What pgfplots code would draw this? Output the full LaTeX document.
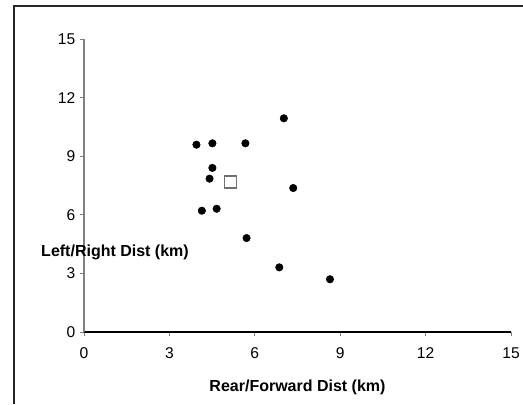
\documentclass[border=0pt]{standalone}
\usepackage{fontspec}
\setmainfont{Liberation Sans}
\usepackage{pgfplots}
\pgfplotsset{compat=1.18}
\definecolor{axisgrey}{HTML}{808080}
\definecolor{boxgrey}{HTML}{707070}

\begin{document}
\begin{tikzpicture}[x=1pt,y=1pt]
% page size and frame (1px = 0.75pt, axis origin at 0,0)
\path[use as bounding box] (-63,-54) rectangle (329.25,249);
\draw[line width=0.9pt, black!85] (-52.5,-54) -- (-52.5,244.5) -- (329.25,244.5);
\begin{axis}[
    at={(0,0)}, anchor=origin,
    scale only axis,
    width=320.25pt, height=219.75pt,
    xmin=0, xmax=15, ymin=0, ymax=15,
    xtick={0,3,...,15}, ytick={0,3,...,15},
    axis lines=left,
    axis line style={-},
    x axis line style={black, line width=0.8pt},
    y axis line style={axisgrey, line width=0.8pt},
    tick align=outside,
    major tick length=3pt,
    tick style={axisgrey, line width=0.6pt},
    tick label style={font=\fontsize{11.7}{13}\selectfont},
    /pgf/number format/assume math mode=true,
    xticklabel style={yshift=-5pt},
    xlabel={\textbf{Rear/Forward Dist (km)}},
    xlabel style={font=\fontsize{12}{14}\selectfont, yshift=-9pt},
    ylabel={\textbf{Left/Right Dist (km)}},
    ylabel style={font=\fontsize{12}{14}\selectfont, rotate=-90,
        at={(axis description cs:0.0726,0.27)}, anchor=center},
    clip=false,
]
\addplot[only marks, mark=*, mark size=2.8pt, mark options={fill=black, draw=black}]
coordinates {
    (7.02,10.94)
    (3.95,9.59)
    (4.51,9.66)
    (5.67,9.66)
    (4.51,8.40)
    (4.41,7.85)
    (7.35,7.37)
    (4.14,6.21)
    (4.66,6.31)
    (5.71,4.81)
    (6.86,3.31)
    (8.64,2.70)
};
\addplot[only marks, mark=square*, mark size=4.5pt, mark options={fill=white, draw=boxgrey, line width=0.8pt}]
coordinates {(5.13,7.68)};
\end{axis}
\end{tikzpicture}
\end{document}
